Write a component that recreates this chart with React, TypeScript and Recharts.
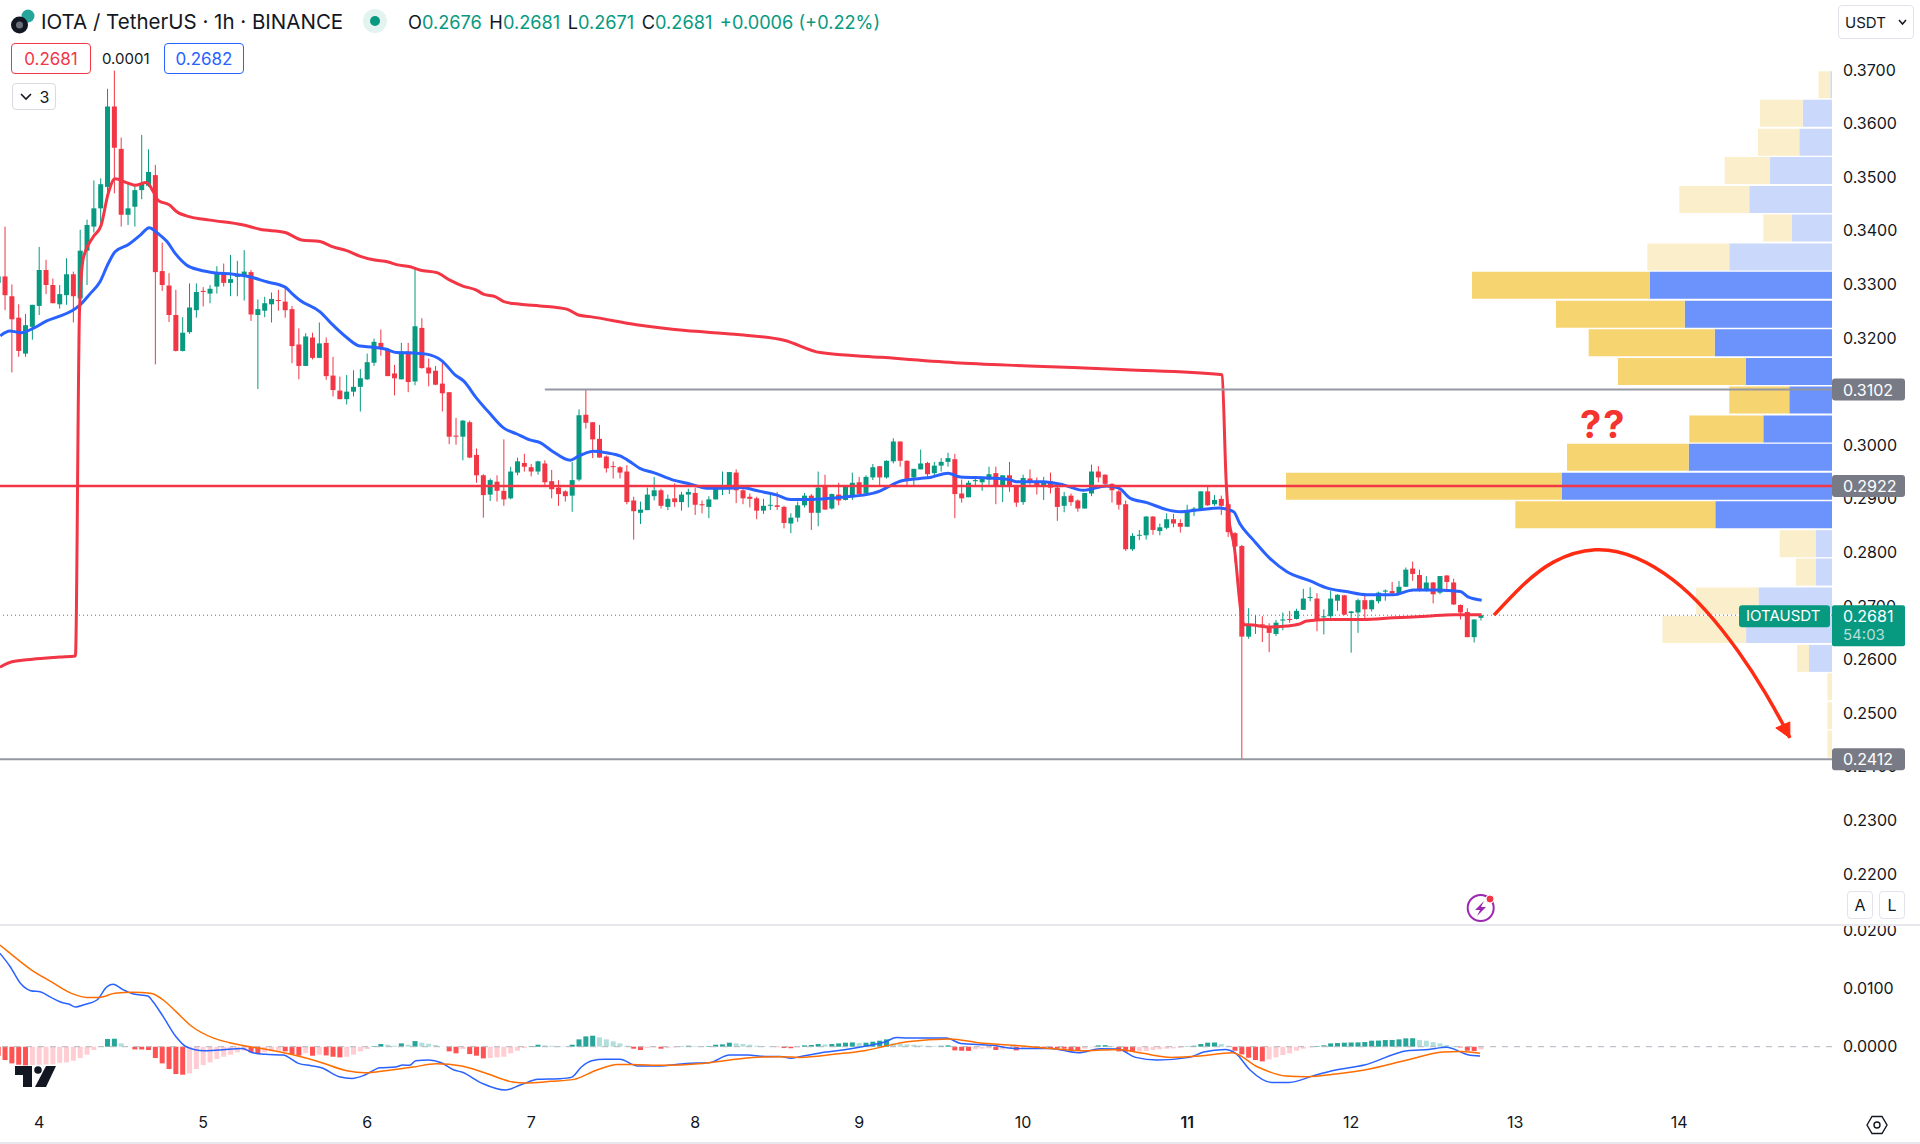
import React from "react";
import {
  Bar,
  Cell,
  ComposedChart,
  Line,
  ReferenceLine,
  XAxis,
  YAxis,
} from "recharts";

// hourly candles, index 0 is hour -6 counted from midnight of the 4th
const FIRST_HOUR = -6;

const opens = [
  0.3301, 0.3313, 0.3276, 0.3236, 0.3169, 0.3219, 0.3258, 0.3325, 0.3297, 0.3261,
  0.3278, 0.3317, 0.3272, 0.3361, 0.3406, 0.344, 0.348, 0.363, 0.3551, 0.3428,
  0.3443, 0.3474, 0.3482, 0.3502, 0.3323, 0.3296, 0.3241, 0.3174, 0.3209, 0.325,
  0.3286, 0.3281, 0.3294, 0.3319, 0.3301, 0.3313, 0.3313, 0.3321, 0.3241, 0.3249,
  0.3261, 0.3269, 0.3266, 0.3252, 0.3186, 0.3146, 0.3199, 0.3161, 0.3189, 0.3128,
  0.31, 0.3084, 0.3098, 0.3107, 0.3121, 0.3152, 0.3189, 0.3177, 0.3132, 0.3121,
  0.3173, 0.3117, 0.3217, 0.3143, 0.3137, 0.3113, 0.3097, 0.3016, 0.3014, 0.3041,
  0.298, 0.2942, 0.2906, 0.293, 0.2913, 0.2899, 0.2947, 0.2965, 0.2957, 0.2949,
  0.2964, 0.2931, 0.2919, 0.2912, 0.2904, 0.2934, 0.3055, 0.3041, 0.301, 0.2977,
  0.2959, 0.2957, 0.2949, 0.2895, 0.2872, 0.2877, 0.2903, 0.2914, 0.2883, 0.2899,
  0.2892, 0.2906, 0.2909, 0.2888, 0.2883, 0.2897, 0.2919, 0.2922, 0.2947, 0.2914,
  0.2902, 0.2899, 0.2876, 0.2886, 0.2886, 0.2883, 0.2852, 0.2863, 0.2886, 0.2904,
  0.2872, 0.2921, 0.288, 0.2906, 0.2896, 0.2901, 0.2929, 0.2908, 0.2938, 0.2959,
  0.2938, 0.2968, 0.3005, 0.2969, 0.2938, 0.2953, 0.2965, 0.2946, 0.296, 0.2967,
  0.2972, 0.2908, 0.2901, 0.2931, 0.2929, 0.2934, 0.2946, 0.2922, 0.2942, 0.2921,
  0.2892, 0.2936, 0.293, 0.2923, 0.2931, 0.2919, 0.2885, 0.2904, 0.2895, 0.288,
  0.2908, 0.2949, 0.2943, 0.2926, 0.2912, 0.2888, 0.2804, 0.283, 0.283, 0.2865,
  0.2838, 0.2844, 0.286, 0.2853, 0.2846, 0.2875, 0.2877, 0.2912, 0.2888, 0.2898,
  0.2888, 0.2834, 0.281, 0.2641, 0.2663, 0.2664, 0.2659, 0.2646, 0.2671, 0.2674,
  0.2674, 0.2691, 0.2713, 0.2712, 0.2677, 0.2679, 0.2708, 0.2718, 0.2685, 0.2686,
  0.2709, 0.2692, 0.2707, 0.2725, 0.2726, 0.272, 0.2734, 0.2768, 0.2756, 0.2727,
  0.2742, 0.2723, 0.2755, 0.2742, 0.27, 0.2687, 0.264, 0.2676,
];

const highs = [
  0.3316, 0.3406, 0.3298, 0.3261, 0.3243, 0.326, 0.3368, 0.3344, 0.3309, 0.3297,
  0.3347, 0.3322, 0.34, 0.3419, 0.3492, 0.3496, 0.3663, 0.3697, 0.3572, 0.3488,
  0.3482, 0.3577, 0.355, 0.3521, 0.3376, 0.3319, 0.3288, 0.3237, 0.33, 0.33,
  0.3293, 0.3297, 0.3332, 0.3337, 0.3353, 0.3342, 0.3362, 0.3325, 0.327, 0.3275,
  0.3283, 0.3288, 0.3294, 0.3258, 0.3216, 0.3207, 0.3208, 0.3227, 0.3199, 0.3163,
  0.3126, 0.3129, 0.3138, 0.314, 0.3169, 0.3197, 0.3214, 0.3179, 0.3148, 0.3189,
  0.3189, 0.3328, 0.3235, 0.316, 0.3146, 0.3157, 0.3097, 0.3049, 0.3045, 0.3044,
  0.2992, 0.2944, 0.2936, 0.2942, 0.3009, 0.2958, 0.2975, 0.2982, 0.2963, 0.2969,
  0.297, 0.2952, 0.2933, 0.2914, 0.2967, 0.3065, 0.3101, 0.3041, 0.3036, 0.2979,
  0.2968, 0.2959, 0.2961, 0.2902, 0.2893, 0.2919, 0.2939, 0.2917, 0.2906, 0.2927,
  0.2911, 0.2917, 0.2919, 0.2895, 0.2903, 0.2923, 0.2949, 0.2948, 0.2953, 0.2916,
  0.2908, 0.2902, 0.2898, 0.2908, 0.2911, 0.2885, 0.2871, 0.2893, 0.2909, 0.2907,
  0.2949, 0.2943, 0.2908, 0.2928, 0.2923, 0.2947, 0.2939, 0.2942, 0.2963, 0.2959,
  0.297, 0.3011, 0.3005, 0.297, 0.2954, 0.299, 0.2967, 0.2967, 0.2974, 0.2984,
  0.2982, 0.2934, 0.2932, 0.2936, 0.2939, 0.2958, 0.2958, 0.2942, 0.2967, 0.2924,
  0.2943, 0.2953, 0.2938, 0.2939, 0.2947, 0.2921, 0.2911, 0.2908, 0.2897, 0.2909,
  0.2962, 0.2959, 0.2944, 0.2927, 0.2916, 0.2895, 0.2834, 0.284, 0.2866, 0.2866,
  0.2852, 0.2871, 0.287, 0.286, 0.2887, 0.2883, 0.2912, 0.2921, 0.2905, 0.2904,
  0.2888, 0.2836, 0.2812, 0.2694, 0.2681, 0.2679, 0.2666, 0.2672, 0.2686, 0.2689,
  0.2693, 0.273, 0.2733, 0.2722, 0.2692, 0.2727, 0.272, 0.2719, 0.2689, 0.2712,
  0.2719, 0.271, 0.2725, 0.2729, 0.2743, 0.2745, 0.277, 0.2781, 0.2766, 0.2754,
  0.2743, 0.2754, 0.2756, 0.2749, 0.2701, 0.2694, 0.2673, 0.2681,
];

const lows = [
  0.33, 0.325, 0.3134, 0.3163, 0.3163, 0.3195, 0.3241, 0.328, 0.3263, 0.3253,
  0.326, 0.3227, 0.3253, 0.3297, 0.3395, 0.3409, 0.3465, 0.3468, 0.3406, 0.3409,
  0.3406, 0.3457, 0.348, 0.3149, 0.3286, 0.3228, 0.3173, 0.3173, 0.3206, 0.3236,
  0.3257, 0.3263, 0.3281, 0.3294, 0.3276, 0.3276, 0.3268, 0.323, 0.3103, 0.3237,
  0.3227, 0.3249, 0.3236, 0.3151, 0.3121, 0.3146, 0.3158, 0.3161, 0.312, 0.3089,
  0.3084, 0.3074, 0.3089, 0.3061, 0.312, 0.3146, 0.3165, 0.3127, 0.3091, 0.3121,
  0.3097, 0.311, 0.3141, 0.3108, 0.311, 0.3061, 0.3, 0.2999, 0.297, 0.2974,
  0.2928, 0.2863, 0.2894, 0.2893, 0.2885, 0.2897, 0.2942, 0.2949, 0.294, 0.2943,
  0.2921, 0.2899, 0.2885, 0.2893, 0.2874, 0.2931, 0.3029, 0.2974, 0.2975, 0.2947,
  0.2936, 0.2936, 0.2888, 0.2822, 0.2851, 0.2877, 0.2895, 0.288, 0.2877, 0.2883,
  0.2876, 0.2882, 0.2868, 0.2871, 0.2862, 0.2897, 0.2905, 0.2907, 0.289, 0.2888,
  0.2882, 0.286, 0.287, 0.2877, 0.2877, 0.2843, 0.2834, 0.2855, 0.2882, 0.284,
  0.2847, 0.2878, 0.2878, 0.2886, 0.2895, 0.2896, 0.2906, 0.2907, 0.2933, 0.2921,
  0.2936, 0.2964, 0.2958, 0.2921, 0.2921, 0.2953, 0.2939, 0.2942, 0.2949, 0.2958,
  0.2862, 0.2891, 0.2901, 0.2922, 0.2913, 0.2924, 0.2888, 0.2892, 0.2911, 0.2883,
  0.2887, 0.2922, 0.2906, 0.2896, 0.2908, 0.2857, 0.2873, 0.2885, 0.2874, 0.288,
  0.2903, 0.2929, 0.2924, 0.2891, 0.2878, 0.2801, 0.2801, 0.2821, 0.2822, 0.2831,
  0.283, 0.2841, 0.2845, 0.2835, 0.2846, 0.2866, 0.2877, 0.2885, 0.2885, 0.2868,
  0.2827, 0.2779, 0.2412, 0.2637, 0.2646, 0.2631, 0.2612, 0.2642, 0.2653, 0.2667,
  0.2673, 0.2691, 0.2707, 0.2651, 0.2645, 0.2672, 0.2689, 0.2681, 0.2611, 0.2648,
  0.2674, 0.2688, 0.2703, 0.2708, 0.2717, 0.2719, 0.2734, 0.2745, 0.2725, 0.2725,
  0.2703, 0.272, 0.2724, 0.27, 0.2673, 0.264, 0.263, 0.2671,
];

const closes = [
  0.3313, 0.3278, 0.3233, 0.3174, 0.3222, 0.326, 0.3325, 0.3297, 0.3263, 0.328,
  0.3317, 0.3276, 0.3361, 0.3409, 0.344, 0.3485, 0.363, 0.3553, 0.3428, 0.344,
  0.3474, 0.3487, 0.3508, 0.3321, 0.3297, 0.3241, 0.3174, 0.3208, 0.3255, 0.3284,
  0.3284, 0.329, 0.3321, 0.3301, 0.3308, 0.3314, 0.3322, 0.3242, 0.3252, 0.3263,
  0.3271, 0.3268, 0.325, 0.3183, 0.3146, 0.3201, 0.3161, 0.3188, 0.3127, 0.3101,
  0.3084, 0.3098, 0.3107, 0.3123, 0.3153, 0.3191, 0.3178, 0.3127, 0.3123, 0.3173,
  0.3116, 0.322, 0.3142, 0.3132, 0.3111, 0.3095, 0.3014, 0.3014, 0.3044, 0.2975,
  0.2942, 0.2905, 0.2933, 0.2913, 0.2897, 0.2949, 0.2968, 0.2958, 0.2949, 0.2968,
  0.2929, 0.2916, 0.2907, 0.2903, 0.2933, 0.3054, 0.304, 0.3009, 0.2975, 0.2955,
  0.2958, 0.2947, 0.2892, 0.2875, 0.2878, 0.2906, 0.2914, 0.2885, 0.2898, 0.2892,
  0.2906, 0.2911, 0.2887, 0.2886, 0.2897, 0.2919, 0.2923, 0.2948, 0.2914, 0.2899,
  0.2898, 0.2876, 0.2885, 0.2887, 0.2883, 0.2853, 0.2863, 0.2886, 0.2904, 0.2872,
  0.2919, 0.2878, 0.2907, 0.2895, 0.2923, 0.2928, 0.2907, 0.2939, 0.2957, 0.2938,
  0.2969, 0.3005, 0.2969, 0.2932, 0.2954, 0.2964, 0.2944, 0.296, 0.2967, 0.2974,
  0.2907, 0.2899, 0.2928, 0.2933, 0.2935, 0.2944, 0.2922, 0.2942, 0.2922, 0.2891,
  0.2937, 0.2928, 0.2921, 0.2931, 0.2919, 0.2883, 0.2903, 0.2892, 0.288, 0.2909,
  0.2949, 0.2938, 0.2926, 0.2914, 0.2887, 0.2804, 0.2829, 0.2831, 0.2865, 0.284,
  0.2845, 0.286, 0.2852, 0.2846, 0.2877, 0.288, 0.2912, 0.2886, 0.2896, 0.2885,
  0.2836, 0.2809, 0.2641, 0.2663, 0.2664, 0.2663, 0.2648, 0.2667, 0.2673, 0.2673,
  0.2689, 0.2712, 0.2715, 0.2671, 0.2679, 0.2712, 0.2719, 0.2682, 0.2688, 0.2709,
  0.2692, 0.2709, 0.2723, 0.2727, 0.2722, 0.2734, 0.2766, 0.2758, 0.2727, 0.2742,
  0.272, 0.2754, 0.2743, 0.2701, 0.2686, 0.264, 0.2673, 0.2681,
];

// macd histogram, same hours as the candles
const macdHist = [
  -0.00154, -0.00229, -0.00286, -0.00309, -0.0032, -0.00315, -0.00309, -0.00305, -0.00303, -0.00275,
  -0.00269, -0.0024, -0.00194, -0.00137, -0.00057, 0.00006, 0.00132, 0.00137, 0.00057, 0.00003,
  -0.00046, -0.00048, -0.00057, -0.00194, -0.00286, -0.00383, -0.00469, -0.0048, -0.00458, -0.00383,
  -0.00315, -0.00269, -0.00212, -0.00172, -0.00137, -0.00097, -0.00069, -0.00097, -0.00126, -0.00097,
  -0.0008, -0.00069, -0.0008, -0.00126, -0.00154, -0.00109, -0.00154, -0.00137, -0.00149, -0.00172,
  -0.00183, -0.00172, -0.00137, -0.0008, -0.0004, 0.00011, 0.00046, 0.00034, 0.00017, 0.00057,
  0.00034, 0.00097, 0.00069, 0.00051, 0.00029, 0.00002, -0.0008, -0.00114, -0.0004, -0.00126,
  -0.00154, -0.002, -0.00194, -0.00183, -0.00172, -0.00114, -0.00069, -0.00023, 0.00011, 0.00034,
  0.00023, 0.00017, 0.00011, 0.00006, 0.00034, 0.00126, 0.00177, 0.00189, 0.0016, 0.00126,
  0.00092, 0.00057, 0.00017, -0.00034, -0.00057, -0.00023, -0.00011, -0.00034, -0.00023, -0.00011,
  0.00006, 0.00017, 0.00011, 0.00006, 0.00011, 0.00034, 0.0004, 0.00069, 0.00057, 0.00046,
  0.00034, 0.00017, 0.00011, 0.00006, -0.00006, -0.00023, -0.00026, -0.00011, 0.00023, 0.00029,
  0.00046, 0.0004, 0.00046, 0.00057, 0.00069, 0.00074, 0.00063, 0.00069, 0.00086, 0.00103,
  0.00126, 0.00057, 0.00046, 0.0004, 0.00034, 0.00023, 0.00017, 0.00011, 0.00017, 0.00023,
  -0.00063, -0.00069, -0.00072, -0.00046, -0.00034, -0.00029, -0.00057, -0.00046, -0.00034, -0.00063,
  -0.00029, -0.00017, -0.00019, -0.00021, -0.00023, -0.00029, -0.00034, -0.00063, -0.00069, -0.00034,
  -0.00011, 0.00023, 0.00026, 0.00011, -0.0008, -0.00086, -0.0009, -0.0008, -0.00074, -0.00057,
  -0.00046, -0.00034, -0.00029, -0.00017, 0.00006, 0.00017, 0.00046, 0.00069, 0.00072, 0.00046,
  0.00017, -0.00069, -0.00132, -0.00189, -0.00229, -0.00252, -0.00217, -0.00183, -0.00143, -0.00114,
  -0.00069, -0.00034, -0.00011, 0.00011, 0.00023, 0.00057, 0.00063, 0.00069, 0.00072, 0.00074,
  0.0008, 0.00103, 0.00105, 0.00114, 0.00116, 0.00126, 0.00143, 0.00145, 0.00114, 0.00103,
  0.0008, 0.00057, 0.00029, 0.00011, -0.00011, -0.00069, -0.00074, -0.00046,
];

// [hour, value] knots
const redAvg: number[][] = [
  [-5.74, 0.2584], [-4, 0.2594], [-1, 0.2599], [3, 0.2603], [5.3, 0.2605], [5.9, 0.325],
  [6.46, 0.3347], [7.92, 0.3387], [9.05, 0.3408], [10.1, 0.3468], [11.1, 0.3495], [12.8, 0.3488],
  [14, 0.3483], [15.7, 0.3488], [16.7, 0.3471], [17.4, 0.3455], [19.1, 0.3446], [20.1, 0.3434],
  [22.1, 0.3424], [25, 0.3418], [29.9, 0.3409], [32.3, 0.3401], [36, 0.3395], [38.4, 0.3381],
  [41.1, 0.3378], [43, 0.3368], [45, 0.3361], [46.9, 0.3351], [48.9, 0.3344], [51.1, 0.334],
  [52.3, 0.3335], [54.3, 0.3331], [55.7, 0.3325], [58.2, 0.332], [60.1, 0.3306], [62, 0.3295],
  [63.9, 0.3288], [65, 0.328], [66.8, 0.3275], [68, 0.3266], [70.4, 0.3261], [73.3, 0.3258],
  [77.2, 0.3252], [78.9, 0.3241], [80.6, 0.3238], [87.4, 0.3223], [94.6, 0.3212], [101.8, 0.3205],
  [109, 0.3194], [114.3, 0.3171], [123.3, 0.3162], [134, 0.3152], [144.8, 0.3146], [159, 0.3139],
  [172.9, 0.313], [173.1, 0.3129], [173.7, 0.2933], [174, 0.2872], [174.9, 0.2808], [175.9, 0.2685],
  [176.3, 0.2663], [176.9, 0.2663], [180.1, 0.2659], [182.6, 0.2661],
  [184.3, 0.2664], [185.5, 0.267], [188.4, 0.2673], [193.8, 0.2673], [198.2, 0.2676], [203, 0.2679],
  [207, 0.2682], [211.1, 0.2682],
];

const blueEma: number[][] = [
  [-5.7, 0.3202], [-4.3, 0.3211], [-2.6, 0.3208], [-0.9, 0.3216], [1.1, 0.323], [2.8, 0.3238],
  [4.8, 0.3249], [6, 0.326], [7.4, 0.328], [8.9, 0.3303], [10.1, 0.3337], [11.1, 0.3359],
  [13, 0.3372], [14.8, 0.339], [16.1, 0.3404], [17.4, 0.3393], [18.7, 0.3378], [19.9, 0.3356],
  [21.6, 0.3334], [23.5, 0.3325], [25.5, 0.332], [28.4, 0.3317], [30.9, 0.3312], [33.3, 0.3303],
  [36, 0.3293], [37, 0.3281], [38.2, 0.3268], [41.1, 0.3247], [43, 0.3222], [45, 0.3199],
  [46.9, 0.3183], [48.9, 0.3181], [50.8, 0.3177], [52.3, 0.3171], [54.8, 0.317], [56.7, 0.3168],
  [58.9, 0.3156], [60.9, 0.3129], [62.1, 0.3118], [64, 0.3086], [65.9, 0.3058], [67.9, 0.3031],
  [69.9, 0.3019], [71.8, 0.3008], [73.3, 0.3003], [75.2, 0.2986], [77.7, 0.297], [79, 0.2978],
  [81.1, 0.2987], [83, 0.2984], [85, 0.2978], [86.5, 0.2967], [87.9, 0.2955], [89.9, 0.2947],
  [92.8, 0.2933], [95.2, 0.2926], [97.7, 0.2918], [100.6, 0.2918], [102.6, 0.2919], [105.5, 0.2912],
  [108, 0.2905], [109.9, 0.2897], [112.8, 0.2897], [115.7, 0.2899], [118.2, 0.2902], [120.6, 0.2905],
  [123.1, 0.2913], [124.5, 0.2922], [126, 0.2931], [128.9, 0.2936], [130.4, 0.2938], [133, 0.2946],
  [134.8, 0.2939], [138.9, 0.2937], [142, 0.2934], [143, 0.293], [146.9, 0.293], [149.9, 0.2924],
  [152.8, 0.2914], [156.2, 0.2922], [158, 0.2918], [159.7, 0.2899], [162.1, 0.2891], [165, 0.2878],
  [167, 0.2874], [169.4, 0.2877], [172.8, 0.2881], [174.8, 0.2874], [175.7, 0.2852], [177.7, 0.2821],
  [180.1, 0.2787], [182.6, 0.2762], [186, 0.2745], [188.4, 0.2732], [191.3, 0.2725], [194.3, 0.2719],
  [198.2, 0.2719], [201.1, 0.2728], [204.5, 0.2728], [208, 0.2725], [209.1, 0.2715], [211.1, 0.2709],
];

const macdLine: number[][] = [
  [-5.74, 0.01601], [-4.24, 0.01372], [-2.75, 0.01087], [-1.26, 0.00961], [0.24, 0.00938], [1.73, 0.00846],
  [3.22, 0.00761], [4.34, 0.00732], [5.31, 0.00681], [6.58, 0.00721], [8.45, 0.00801], [9.94, 0.01029],
  [10.84, 0.01069], [12.18, 0.00984], [13.82, 0.00904], [15.91, 0.00869], [16.66, 0.00772], [18.15, 0.00515],
  [20.02, 0.00172], [21.51, 0], [24.13, -0.00069], [26.37, -0.00057], [29.73, -0.00029], [31.22, -0.00103],
  [33.09, -0.00131], [35.7, -0.00143], [37.94, -0.00286], [39.8, -0.00326], [41.3, -0.0036], [43.91, -0.00515],
  [45.78, -0.00543], [47.65, -0.00486], [49.88, -0.0036], [52.12, -0.00349], [53.24, -0.00314], [54.2, -0.0032],
  [55.11, -0.0024], [56.98, -0.00229], [58.84, -0.00274], [60.71, -0.004], [61.83, -0.00434], [64.82, -0.00629],
  [68.18, -0.00743], [70.42, -0.00657], [73.03, -0.0056], [76.02, -0.00549], [77.88, -0.00526], [79.38, -0.00343],
  [80.87, -0.0024], [82.74, -0.00217], [84.97, -0.00217], [87.59, -0.00331], [90.57, -0.00331], [94.68, -0.00286],
  [98.04, -0.00274], [101.03, -0.00143], [103.64, -0.00143], [106.25, -0.00166], [108.49, -0.00166], [109.98, -0.002],
  [111.34, -0.00171], [114.48, -0.00103], [117.61, -0.00057], [121.79, 0.00029], [123.89, 0.00086], [125.45, 0.0016],
  [127.02, 0.00149], [132.77, 0.00149], [134.86, 0.00057], [139.57, 0.00023], [142.7, -0.00029], [147.93, -0.00029],
  [152.11, -0.00103], [155.25, -0.00034], [157.86, -0.0004], [160.47, -0.00183], [163.61, -0.00229], [168.31, -0.00183],
  [170.4, -0.00091], [173.54, -0.00046], [175.11, -0.00114], [177.2, -0.004], [180.34, -0.00612], [182.95, -0.00612],
  [186.61, -0.00492], [189.75, -0.004], [193.92, -0.00314], [200.2, -0.00069], [203.34, -0.00046], [205.95, -0.00011],
  [209.08, -0.00137], [210.86, -0.0016],
];

const macdSignal: number[][] = [
  [-5.74, 0.01744], [-4.24, 0.01601], [-1.26, 0.01327], [1.73, 0.01115], [4.72, 0.00915], [6.96, 0.00846],
  [8.82, 0.00846], [11.06, 0.00915], [13.67, 0.00932], [16.29, 0.00915], [18.15, 0.00801], [20.02, 0.00601],
  [22.26, 0.00355], [25.62, 0.00143], [27.86, 0.00069], [30.85, 0], [33.83, -0.00057], [36.82, -0.00131],
  [40.93, -0.00257], [45.03, -0.00412], [47.65, -0.00446], [51, -0.00406], [54.74, -0.00349], [58.1, -0.00291],
  [61.83, -0.00331], [65.19, -0.00446], [69.3, -0.00606], [71.16, -0.00623], [74.9, -0.00594], [78.25, -0.0056],
  [81.62, -0.004], [84.6, -0.00303], [87.59, -0.00309], [91.3, -0.0032], [96.55, -0.00291], [100.28, -0.0024],
  [104, -0.00188], [108.49, -0.00171], [111.34, -0.00183], [116.57, -0.00126], [120.75, -0.00069], [123.89, 0.00011],
  [127.02, 0.00086], [133.29, 0.00132], [137.47, 0.00069], [142.7, 0.00023], [147.93, -0.00029], [153.16, -0.00069],
  [157.86, -0.00046], [161.52, -0.00114], [165.7, -0.00183], [169.88, -0.0016], [174.59, -0.00103], [178.25, -0.00343],
  [182.43, -0.00503], [185.56, -0.00514], [189.75, -0.00469], [193.92, -0.004], [200.2, -0.00229], [205.43, -0.00091],
  [208.04, -0.0008], [210.86, -0.00114],
];

// the hand drawn forecast arrow
const forecastArrow: number[][] = [
  [212.9, 0.2681], [216.9, 0.2734], [221.6, 0.278], [227.7, 0.2803], [233.7, 0.2788],
  [239.1, 0.2747], [243.8, 0.2691], [248.5, 0.2616], [252.6, 0.2536], [255.5, 0.247], [256.2, 0.2452],
];

// volume profile rows, top to bottom
const vpPrices = [
  0.3671, 0.3618, 0.3564, 0.3511, 0.3457, 0.3404, 0.335, 0.3297, 0.3243, 0.319, 0.3136, 0.3083,
  0.3029, 0.2976, 0.2922, 0.2869, 0.2815, 0.2762, 0.2708, 0.2655, 0.2601, 0.2548, 0.2494, 0.2441,
];
const vpUp = [
  1.7, 29.3, 32.7, 62, 82.7, 40, 102.7, 182, 147.3, 117.3, 86, 42.7,
  68.7, 143.3, 270, 116.7, 16.5, 16.5, 73.5, 85.9, 23, 0, 0, 0,
];
const vpDown = [
  11.7, 42.7, 41.3, 45.3, 70, 28.7, 82, 178, 128.7, 126, 128, 60,
  74, 121.7, 276, 200, 35.8, 19.7, 62.4, 83.6, 11.9, 4.6, 4.6, 4.6,
];
const VALUE_AREA = [7, 15]; // first and last row of the value area

const priceTicks = [
  0.37, 0.36, 0.35, 0.34, 0.33, 0.32, 0.31, 0.3, 0.29, 0.28, 0.27, 0.26, 0.25, 0.24, 0.23, 0.22,
];
const macdTicks = [0.02, 0.01, 0];
const dayLabels = ["4", "5", "6", "7", "8", "9", "10", "11", "12", "13", "14"];

const LEVEL_TOP = 0.3102;
const LEVEL_MID = 0.2922;
const LEVEL_LOW = 0.2412;
const LAST_PRICE = 0.2681;

const PLOT_W = 1832;
const CHART_W = 1920;
const AXIS_W = 88;
const PRICE_H = 925;
const MACD_H = 218;
const MARK_W = 5;
const HOUR_DOMAIN: [number, number] = [-5.737, 262.37];
const PRICE_DOMAIN: [number, number] = [0.2103, 0.38287];
const MACD_DOMAIN: [number, number] = [-0.01051, 0.0207];

const GREEN = "#089981";
const RED = "#f23645";
const BLUE = "#2962ff";
const TEXT = "#131722";
const FONT = "Inter, 'Noto Sans', sans-serif";

const candles = opens.map((open, i) => ({
  hour: FIRST_HOUR + i,
  open,
  high: highs[i],
  low: lows[i],
  close: closes[i],
  hist: macdHist[i],
}));

const vpRows = vpPrices.map((price, i) => ({
  price,
  up: vpUp[i],
  down: vpDown[i],
  inValueArea: i >= VALUE_AREA[0] && i <= VALUE_AREA[1],
}));

const toPoints = (rows: number[][]) => rows.map(([hour, value]) => ({ hour, value }));

const histColor = (i: number) => {
  const v = macdHist[i];
  const prev = i > 0 ? macdHist[i - 1] : 0;
  if (v >= 0) return v >= prev ? "#26a69a" : "#b2dfdb";
  return v <= prev ? "#ff5252" : "#ffcdd2";
};

// the line series with their own hours shrink the band, so mark width is fixed here
function Candle(props: any) {
  const { x, y, width, height, payload } = props;
  const cx = x + width / 2;
  const perUnit = height / (payload.high - payload.low);
  const up = payload.close >= payload.open;
  const top = y + (payload.high - Math.max(payload.open, payload.close)) * perUnit;
  const bodyH = Math.max(Math.abs(payload.close - payload.open) * perUnit, 1);
  const color = up ? GREEN : RED;
  return (
    <g>
      <line x1={cx} x2={cx} y1={y} y2={y + height} stroke={color} strokeWidth={1} />
      <rect x={cx - MARK_W / 2} y={top} width={MARK_W} height={bodyH} fill={color} />
    </g>
  );
}

function HistBar(props: any) {
  const { x, y, width, height, index } = props;
  const top = Math.min(y, y + height);
  return (
    <rect
      x={x + width / 2 - MARK_W / 2}
      y={top}
      width={MARK_W}
      height={Math.abs(height)}
      fill={histColor(index)}
    />
  );
}

function PriceTag(props: any) {
  const { viewBox, text } = props;
  const left = viewBox.x + viewBox.width;
  const y = viewBox.y;
  return (
    <g>
      <rect x={left} y={y - 11} width={73} height={22} rx={3} fill="#787b86" />
      <text x={left + 11} y={y + 6} fontSize={16} fontFamily={FONT} fill="#ffffff">
        {text}
      </text>
    </g>
  );
}

function LastPriceTag(props: any) {
  const { viewBox } = props;
  const left = viewBox.x + viewBox.width;
  const y = viewBox.y;
  return (
    <g>
      <rect x={left - 93} y={y - 10} width={91} height={22} rx={3} fill={GREEN} />
      <text x={left - 86} y={y + 6} fontSize={15} fontFamily={FONT} fill="#ffffff">
        IOTAUSDT
      </text>
      <rect x={left} y={y - 10} width={73} height={41} rx={2} fill={GREEN} />
      <text x={left + 11} y={y + 7} fontSize={16} fontFamily={FONT} fill="#ffffff">
        {LAST_PRICE.toFixed(4)}
      </text>
      <text x={left + 11} y={y + 25} fontSize={15} fontFamily={FONT} fill="#b5dfd8">
        54:03
      </text>
    </g>
  );
}

function ArrowHead(props: any) {
  const { cx, cy, index } = props;
  if (index !== forecastArrow.length - 1) return <g key={index} />;
  return (
    <polygon
      key={index}
      points={`${cx},${cy} ${cx - 14},${cy - 10} ${cx},${cy - 16}`}
      fill="#ff2b12"
      stroke="#ff2b12"
    />
  );
}

function DayTick(props: any) {
  const { x, y, payload } = props;
  const label = dayLabels[payload.value / 24];
  return (
    <text
      x={x}
      y={y + 12}
      textAnchor="middle"
      fontSize={16}
      fontFamily={FONT}
      fontWeight={label === "11" ? 600 : 400}
      fill={TEXT}
    >
      {label}
    </text>
  );
}

function Box(props: { x: number; y: number; w: number; h: number; color: string; children: React.ReactNode }) {
  const { x, y, w, h, color, children } = props;
  return (
    <div
      style={{
        position: "absolute",
        left: x,
        top: y,
        width: w,
        height: h,
        boxSizing: "border-box",
        border: `1.5px solid ${color}`,
        borderRadius: 4,
        display: "flex",
        alignItems: "center",
        justifyContent: "center",
        fontSize: 16,
        background: "#fff",
      }}
    >
      {children}
    </div>
  );
}

function Header() {
  const pair = (k: string, v: string) => (
    <span style={{ marginRight: 7.5 }}>
      <span style={{ color: TEXT }}>{k}</span>
      <span style={{ color: GREEN }}>{v}</span>
    </span>
  );
  return (
    <>
      <svg style={{ position: "absolute", left: 8, top: 8 }} width={32} height={32}>
        <circle cx={20} cy={8} r={6.5} fill="#26a69a" />
        <circle cx={11.5} cy={17} r={8.5} fill="#131722" />
        <circle cx={11.5} cy={17} r={3.5} fill="#6b6f7a" />
      </svg>
      <div style={{ position: "absolute", left: 41, top: 9, fontSize: 20.5, color: TEXT, whiteSpace: "nowrap" }}>
        IOTA / TetherUS · 1h · BINANCE
      </div>
      <svg style={{ position: "absolute", left: 362, top: 9 }} width={26} height={26}>
        <circle cx={13} cy={12} r={12} fill="#e3f3f0" />
        <circle cx={13} cy={12} r={5} fill={GREEN} />
      </svg>
      <div style={{ position: "absolute", left: 408, top: 11, fontSize: 18.2, whiteSpace: "nowrap" }}>
        {pair("O", "0.2676")}
        {pair("H", "0.2681")}
        {pair("L", "0.2671")}
        {pair("C", "0.2681")}
        <span style={{ color: GREEN }}>+0.0006 (+0.22%)</span>
      </div>
      <Box x={11} y={43} w={80} h={31} color={RED}>
        <span style={{ color: RED, fontSize: 17 }}>0.2681</span>
      </Box>
      <div style={{ position: "absolute", left: 102, top: 49, fontSize: 15, color: TEXT }}>0.0001</div>
      <Box x={164} y={43} w={80} h={31} color={BLUE}>
        <span style={{ color: BLUE, fontSize: 17 }}>0.2682</span>
      </Box>
      <Box x={12} y={83} w={44} h={27} color="#d9dbe0">
        <svg width={14} height={10} style={{ marginRight: 7 }}>
          <path d="M2 2 L7 7 L12 2" fill="none" stroke={TEXT} strokeWidth={1.6} />
        </svg>
        <span style={{ color: TEXT }}>3</span>
      </Box>
      <Box x={1838} y={5} w={76} h={34} color="#e0e3eb">
        <span style={{ color: TEXT, marginRight: 12, fontSize: 15 }}>USDT</span>
        <svg width={9} height={7}>
          <path d="M1 1 L4.5 5 L8 1" fill="none" stroke={TEXT} strokeWidth={1.5} />
        </svg>
      </Box>
    </>
  );
}

function Overlays() {
  return (
    <>
      <div
        style={{
          position: "absolute",
          left: 1580,
          top: 401,
          fontSize: 38,
          fontWeight: 700,
          color: "#f5342f",
          letterSpacing: 2,
        }}
      >
        ??
      </div>
      <Box x={1847} y={891} w={26} h={28} color="#e0e3eb">
        <span style={{ color: TEXT }}>A</span>
      </Box>
      <Box x={1879} y={891} w={26} h={28} color="#e0e3eb">
        <span style={{ color: TEXT }}>L</span>
      </Box>
      <svg style={{ position: "absolute", left: 1460, top: 890 }} width={40} height={36}>
        <circle cx={20.7} cy={18} r={13} fill="none" stroke="#9c27b0" strokeWidth={2} />
        <path d="M24 11 L15 20 L20 20 L17 26 L26 17 L21 17 Z" fill="#9c27b0" />
        <circle cx={30} cy={9} r={4} fill={RED} stroke="#fff" strokeWidth={1} />
      </svg>
      <svg style={{ position: "absolute", left: 12, top: 1062 }} width={48} height={28}>
        <path d="M3 4 H20 V25 H11 V13 H3 Z" fill={TEXT} />
        <circle cx={26} cy={8} r={3.8} fill={TEXT} />
        <path d="M34 4 H44 L34 25 H23 Z" fill={TEXT} />
      </svg>
      <svg style={{ position: "absolute", left: 1864, top: 1113 }} width={26} height={24}>
        <path d="M3 12 L8 3.5 H18 L23 12 L18 20.5 H8 Z" fill="none" stroke={TEXT} strokeWidth={1.4} />
        <circle cx={13} cy={12} r={3} fill="none" stroke={TEXT} strokeWidth={1.4} />
      </svg>
    </>
  );
}

export default function App() {
  return (
    <div
      style={{
        position: "absolute",
        left: 0,
        top: 0,
        width: CHART_W,
        height: 1144,
        overflow: "hidden",
        background: "#fff",
        fontFamily: FONT,
      }}
    >
      {/* volume profile sits behind the candles */}
      <div style={{ position: "absolute", left: 0, top: 0 }}>
        <ComposedChart
          width={PLOT_W}
          height={PRICE_H}
          data={vpRows}
          layout="vertical"
          margin={{ top: 0, right: 0, bottom: 0, left: 0 }}
        >
          <XAxis type="number" hide reversed domain={[0, PLOT_W]} allowDataOverflow />
          <YAxis type="number" hide reversed dataKey="price" domain={PRICE_DOMAIN} allowDataOverflow />
          <Bar dataKey="up" stackId="vp" barSize={27} isAnimationActive={false}>
            {vpRows.map((r, i) => (
              <Cell key={i} fill={r.inValueArea ? "#6b93fb" : "#cad8fb"} />
            ))}
          </Bar>
          <Bar dataKey="down" stackId="vp" barSize={27} isAnimationActive={false}>
            {vpRows.map((r, i) => (
              <Cell key={i} fill={r.inValueArea ? "#f6d46f" : "#fbeeca"} />
            ))}
          </Bar>
        </ComposedChart>
      </div>

      <div style={{ position: "absolute", left: 0, top: 0 }}>
        <ComposedChart
          width={CHART_W}
          height={PRICE_H}
          data={candles}
          margin={{ top: 0, right: 0, bottom: 0, left: 0 }}
        >
          <XAxis type="number" dataKey="hour" hide domain={HOUR_DOMAIN} allowDataOverflow />
          <YAxis
            orientation="right"
            type="number"
            width={AXIS_W}
            domain={PRICE_DOMAIN}
            ticks={priceTicks}
            allowDataOverflow
            interval={0}
            axisLine={false}
            tickLine={false}
            tickMargin={11}
            tickSize={0}
            tickFormatter={(v: number) => v.toFixed(4)}
            tick={{ fontSize: 16, fontFamily: FONT, fill: TEXT, dy: 1 }}
          />
          <Bar
            dataKey={(d: any) => [d.low, d.high]}
            shape={<Candle />}
            isAnimationActive={false}
          />
          <Line
            data={toPoints(blueEma)}
            dataKey="value"
            type="monotone"
            stroke={BLUE}
            strokeWidth={3}
            dot={false}
            isAnimationActive={false}
          />
          <Line
            data={toPoints(redAvg)}
            dataKey="value"
            type="monotone"
            stroke={RED}
            strokeWidth={3}
            dot={false}
            isAnimationActive={false}
          />
          <Line
            data={toPoints(forecastArrow)}
            dataKey="value"
            type="natural"
            stroke="#ff2b12"
            strokeWidth={3.5}
            dot={<ArrowHead />}
            isAnimationActive={false}
          />
          <ReferenceLine y={LAST_PRICE} stroke={GREEN} strokeDasharray="1 3" />
          <ReferenceLine
            segment={[
              { x: 74, y: LEVEL_TOP },
              { x: HOUR_DOMAIN[1], y: LEVEL_TOP },
            ]}
            stroke="#9598a1"
            strokeWidth={2}
          />
          <ReferenceLine y={LEVEL_MID} stroke={RED} strokeWidth={2.5} />
          <ReferenceLine y={LEVEL_LOW} stroke="#9598a1" strokeWidth={2} />
        </ComposedChart>
      </div>

      {/* price tags go in their own layer so they cover the axis labels */}
      <div style={{ position: "absolute", left: 0, top: 0 }}>
        <ComposedChart
          width={CHART_W}
          height={PRICE_H}
          data={candles}
          margin={{ top: 0, right: AXIS_W, bottom: 0, left: 0 }}
        >
          <XAxis type="number" dataKey="hour" hide domain={HOUR_DOMAIN} allowDataOverflow />
          <YAxis type="number" hide domain={PRICE_DOMAIN} allowDataOverflow />
          <ReferenceLine y={LAST_PRICE} stroke="none" label={<LastPriceTag />} />
          <ReferenceLine y={LEVEL_TOP} stroke="none" label={<PriceTag text={LEVEL_TOP.toFixed(4)} />} />
          <ReferenceLine y={LEVEL_MID} stroke="none" label={<PriceTag text={LEVEL_MID.toFixed(4)} />} />
          <ReferenceLine y={LEVEL_LOW} stroke="none" label={<PriceTag text={LEVEL_LOW.toFixed(4)} />} />
        </ComposedChart>
      </div>

      <div style={{ position: "absolute", left: 0, top: 926 }}>
        <ComposedChart
          width={CHART_W}
          height={MACD_H}
          data={candles}
          margin={{ top: 0, right: 0, bottom: 0, left: 0 }}
        >
          <XAxis
            type="number"
            dataKey="hour"
            domain={HOUR_DOMAIN}
            allowDataOverflow
            height={36}
            ticks={dayLabels.map((_, i) => i * 24)}
            interval={0}
            axisLine={false}
            tickLine={false}
            tick={<DayTick />}
          />
          <YAxis
            orientation="right"
            type="number"
            width={AXIS_W}
            domain={MACD_DOMAIN}
            ticks={macdTicks}
            allowDataOverflow
            interval={0}
            axisLine={false}
            tickLine={false}
            tickMargin={11}
            tickSize={0}
            tickFormatter={(v: number) => v.toFixed(4)}
            tick={{ fontSize: 16, fontFamily: FONT, fill: TEXT }}
          />
          <ReferenceLine y={0} stroke="#b2b5be" strokeDasharray="6 6" />
          <Bar dataKey="hist" shape={<HistBar />} isAnimationActive={false} />
          <Line
            data={toPoints(macdLine)}
            dataKey="value"
            type="monotone"
            stroke={BLUE}
            strokeWidth={1.5}
            dot={false}
            isAnimationActive={false}
          />
          <Line
            data={toPoints(macdSignal)}
            dataKey="value"
            type="monotone"
            stroke="#ff6d00"
            strokeWidth={1.5}
            dot={false}
            isAnimationActive={false}
          />
        </ComposedChart>
      </div>

      <div style={{ position: "absolute", left: 0, top: 924, width: CHART_W, height: 2, background: "#e6e8ee" }} />
      <div style={{ position: "absolute", left: 0, top: 1142, width: CHART_W, height: 2, background: "#e6e8ee" }} />

      <Header />
      <Overlays />
    </div>
  );
}
